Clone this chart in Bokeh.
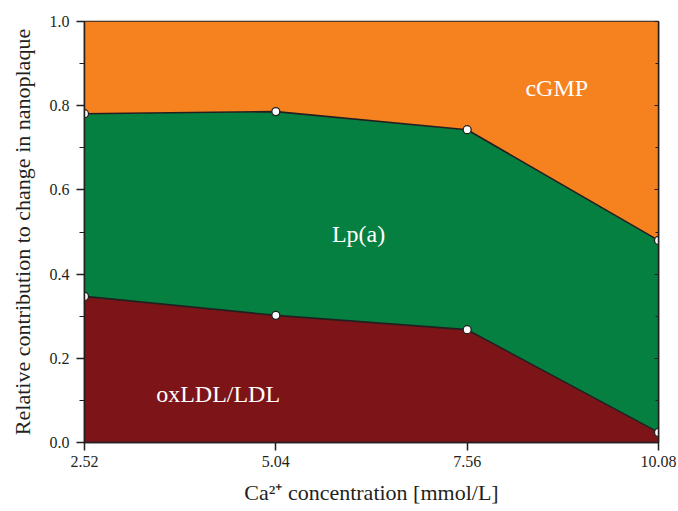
import numpy as np
from bokeh.plotting import figure
from bokeh.models import (ColumnDataSource, Range1d, FixedTicker, PrintfTickFormatter,
                          LinearAxis)
from bokeh.core.properties import value
from bokeh.embed import file_html
from bokeh.resources import INLINE

# ---- data ----
ca_conc = [2.52, 5.04, 7.56, 10.08]
oxldl = [0.347, 0.302, 0.268, 0.024]
lpa = [0.434, 0.484, 0.475, 0.456]
cgmp = [0.219, 0.214, 0.257, 0.520]
series_names = ["oxLDL/LDL", "Lp(a)", "cGMP"]
x_ticks = [2.52, 5.04, 7.56, 10.08]
y_ticks = [0.0, 0.2, 0.4, 0.6, 0.8, 1.0]
y_minor = [0.1, 0.3, 0.5, 0.7, 0.9]

# label positions (data coords)
label_x = [4.28, 6.13, 8.74]
label_y = [0.116, 0.496, 0.843]

FONT = "Liberation Serif"
AXFONT = "'Liberation Serif', 'Times New Roman', serif"
DARK = "#231F20"
colors = ["#7D1518", "#068040", "#F5821F"]

src = ColumnDataSource(dict(x=ca_conc, oxldl=oxldl, lpa=lpa, cgmp=cgmp))
b1 = np.array(oxldl)
b2 = b1 + np.array(lpa)

p = figure(width=678, height=511, output_backend="svg", toolbar_location=None,
           x_range=Range1d(2.52, 10.08), y_range=Range1d(0, 1),
           min_border_left=84, min_border_right=20, min_border_top=21,
           min_border_bottom=69)
p.background_fill_color = "white"
p.border_fill_color = "white"
p.grid.visible = False
p.outline_line_color = DARK
p.outline_line_width = 1.5

p.varea_stack(stackers=["oxldl", "lpa", "cgmp"], x="x", color=colors, source=src)

p.line(ca_conc, b1, line_color=DARK, line_width=1.6)
p.line(ca_conc, b2, line_color=DARK, line_width=1.6)
p.scatter(ca_conc, b1, size=8, fill_color="white", line_color=DARK, line_width=1.3)
p.scatter(ca_conc, b2, size=8, fill_color="white", line_color=DARK, line_width=1.3)

p.text(x=label_x, y=label_y, text=series_names, text_color="white",
       text_font=value(FONT), text_font_size="24px", text_align="center",
       text_baseline="alphabetic")

# axes
xa = p.xaxis[0]
xa.ticker = FixedTicker(ticks=x_ticks, minor_ticks=[])
xa.formatter = PrintfTickFormatter(format="%.2f")
xa.axis_label = "Ca\u00b2\u207a concentration [mmol/L]"

ya = p.yaxis[0]
ya.ticker = FixedTicker(ticks=y_ticks, minor_ticks=y_minor)
ya.formatter = PrintfTickFormatter(format="%.1f")
ya.axis_label = "Relative contribution to change in nanoplaque"

for ax in (xa, ya):
    ax.axis_line_color = DARK
    ax.axis_line_width = 1.5
    ax.major_tick_line_color = DARK
    ax.minor_tick_line_color = DARK
    ax.major_tick_line_width = 1.5
    ax.minor_tick_line_width = 1.2
    ax.major_tick_out = 8
    ax.major_tick_in = 0
    ax.minor_tick_out = 5
    ax.minor_tick_in = 0
    ax.major_label_text_font = AXFONT
    ax.major_label_text_font_size = "16px"
    ax.major_label_text_color = DARK
    ax.axis_label_text_font = AXFONT
    ax.axis_label_text_font_size = "22px"
    ax.axis_label_text_font_style = "normal"
    ax.axis_label_text_color = DARK
xa.major_label_standoff = 5
xa.axis_label_standoff = 10
ya.major_label_standoff = 7
ya.axis_label_standoff = 12

ra = LinearAxis(ticker=FixedTicker(ticks=y_ticks, minor_ticks=y_minor))
ra.axis_line_color = DARK
ra.axis_line_width = 1.5
ra.major_tick_in = 4
ra.major_tick_out = 0
ra.minor_tick_in = 3
ra.minor_tick_out = 0
ra.major_tick_line_color = DARK
ra.minor_tick_line_color = DARK
ra.major_label_text_color = None
ra.major_label_text_font_size = "1px"
p.add_layout(ra, "right")

open("out.html", "w").write(file_html(p, INLINE))
